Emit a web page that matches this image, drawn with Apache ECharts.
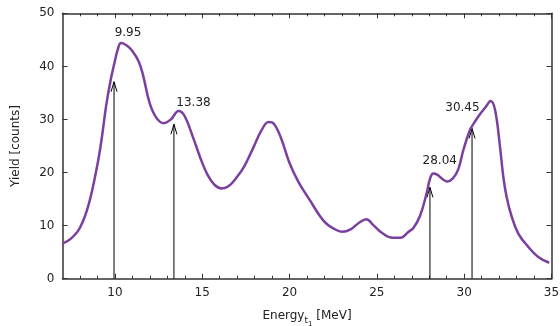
<!DOCTYPE html>
<html>
<head>
<meta charset="utf-8">
<script src="https://cdn.jsdelivr.net/npm/echarts@6/dist/echarts.min.js"></script>
<style>
  html, body { margin: 0; padding: 0; background: #fff; }
  #box1 { width: 560px; height: 326px; }
</style>
</head>
<body>
<div id="box1"></div>
<script>
// data
var energy = [7.0, 7.5, 8.0, 8.5, 9.0, 9.25, 9.5, 9.75, 10.0, 10.15, 10.35, 10.7, 11.0, 11.35, 11.6, 12.0, 12.4, 12.8, 13.2, 13.65, 14.0, 14.5,
  14.9, 15.3, 15.7, 16.1, 16.5, 17.0, 17.4, 17.9, 18.4, 18.8, 19.1, 19.5, 20.0, 20.5, 21.2, 21.7, 22.1, 22.5, 23.0, 23.5, 24.0, 24.4,
  24.8, 25.3, 25.9, 26.35, 26.8, 27.1, 27.47, 27.85, 28.05, 28.23, 28.45, 28.75, 29.03, 29.35, 29.66, 29.95, 30.33, 30.6, 30.9, 31.2,
  31.52, 31.77, 32.05, 32.24, 32.43, 32.72, 33.1, 33.67, 34.24, 34.87];
var yieldCounts = [6.6, 7.6, 9.6, 14.0, 21.5, 26.5, 32.6, 37.3, 41.0, 43.0, 44.4, 43.9, 42.9, 41.0, 38.5, 33.0, 30.2, 29.3, 30.0, 31.6, 30.6, 26.4,
  22.7, 19.6, 17.7, 17.0, 17.4, 19.2, 21.1, 24.5, 28.0, 29.5, 29.2, 26.6, 21.8, 18.3, 14.6, 12.0, 10.4, 9.5, 8.85, 9.3, 10.6, 11.2,
  10.1, 8.6, 7.7, 7.7, 8.8, 9.6, 11.8, 16.1, 18.9, 19.8, 19.6, 18.8, 18.3, 18.9, 20.6, 24.2, 28.0, 29.5, 31.0, 32.2,
  33.5, 31.8, 24.9, 19.2, 15.4, 11.7, 8.5, 6.0, 4.1, 3.0];

var arrowX = [9.95, 13.38, 28.04, 30.45];
var arrowTop = [37.1, 29.1, 17.2, 28.3];
var peakText = ['9.95', '13.38', '28.04', '30.45'];
var textX = [10.75, 14.5, 28.6, 29.9];
var textY = [46.4, 33.1, 22.2, 32.1];

var xMajor = [10, 15, 20, 25, 30, 35];
var xMinor = [8, 9, 11, 12, 13, 14, 16, 17, 18, 19, 21, 22, 23, 24, 26, 27, 28, 29, 31, 32, 33, 34];

var axisColor = '#333';
var fontName = 'DejaVu Sans';

var curveData = energy.map(function(e, i) {
  return [e, yieldCounts[i]];
});
var arrowData = arrowX.map(function(x, i) {
  return [x, arrowTop[i]];
});
var textData = textX.map(function(x, i) {
  return [x, textY[i], peakText[i]];
});

function xAxisPart(pos, ticks, len, showLine, showLabel) {
  return {
    type: 'value',
    min: 7,
    max: 35,
    position: pos,
    offset: 0,
    axisLine: { show: showLine, onZero: false, lineStyle: { color: axisColor, width: 1.5 } },
    axisTick: { show: true, inside: true, length: len, customValues: ticks, lineStyle: { color: axisColor, width: 1 } },
    axisLabel: {
      show: showLabel,
      customValues: xMajor,
      fontSize: 12,
      fontFamily: fontName,
      color: '#222',
      margin: 8
    },
    splitLine: { show: false }
  };
}

var xAxes = [
  xAxisPart('bottom', xMajor, 5, true, true),
  xAxisPart('bottom', xMinor, 3, false, false),
  xAxisPart('top', xMajor, 5, true, false),
  xAxisPart('top', xMinor, 3, false, false)
];
// Energy with subscript t and sub-subscript 1
xAxes[0].name = '{a|Energy}{b|t}{c|1}{a| [MeV]}';
xAxes[0].nameLocation = 'middle';
xAxes[0].nameGap = 31;
xAxes[0].nameTextStyle = {
  rich: {
    a: { fontSize: 12, fontFamily: fontName, color: '#222', lineHeight: 14, verticalAlign: 'top' },
    b: { fontSize: 9, fontFamily: fontName, color: '#222', lineHeight: 9, verticalAlign: 'top', padding: [6.5, 0, 0, 0] },
    c: { fontSize: 7, fontFamily: fontName, color: '#222', lineHeight: 7, verticalAlign: 'top', padding: [11, 0, 0, 0] }
  }
};

var chart = echarts.init(document.getElementById('box1'), null, { renderer: 'canvas' });

var option = {
  animation: false,
  backgroundColor: '#fff',
  grid: {
    left: 62.5,
    right: 8.5,
    top: 13.3,
    bottom: 47.3,
    containLabel: false,
    outerBoundsMode: 'none'
  },
  xAxis: xAxes,
  yAxis: [{
    type: 'value',
    min: 0,
    max: 50,
    interval: 10,
    position: 'left',
    name: 'Yield [counts]',
    nameLocation: 'middle',
    nameGap: 41,
    nameTextStyle: { fontSize: 12, fontFamily: fontName, color: '#222' },
    axisLine: { show: true, onZero: false, lineStyle: { color: axisColor, width: 1.5 } },
    axisTick: { show: true, inside: true, length: 5, lineStyle: { color: axisColor } },
    axisLabel: { fontSize: 12, fontFamily: fontName, color: '#222', margin: 8 },
    splitLine: { show: false }
  }, {
    type: 'value',
    min: 0,
    max: 50,
    interval: 10,
    position: 'right',
    axisLine: { show: true, onZero: false, lineStyle: { color: axisColor, width: 1.5 } },
    axisTick: { show: true, inside: true, length: 5, lineStyle: { color: axisColor } },
    axisLabel: { show: false },
    splitLine: { show: false }
  }],
  series: [{
    name: 'yield',
    type: 'line',
    xAxisIndex: 0,
    yAxisIndex: 0,
    data: curveData,
    smooth: 0.4,
    showSymbol: false,
    lineStyle: { color: '#7b3f9f', width: 2.5 },
    z: 3
  }, {
    // peak arrows: vertical line from zero up to an open arrowhead
    type: 'custom',
    xAxisIndex: 0,
    yAxisIndex: 0,
    data: arrowData,
    renderItem: function(params, api) {
      var base = api.coord([api.value(0), 0]);
      var tip = api.coord([api.value(0), api.value(1)]);
      return {
        type: 'group',
        children: [{
          type: 'line',
          shape: { x1: base[0], y1: base[1], x2: tip[0], y2: tip[1] },
          style: { stroke: '#000', lineWidth: 1 }
        }, {
          type: 'polyline',
          shape: { points: [[tip[0] - 3, tip[1] + 10], [tip[0], tip[1]], [tip[0] + 3, tip[1] + 10]] },
          style: { stroke: '#000', lineWidth: 1, fill: null }
        }]
      };
    },
    z: 2
  }, {
    type: 'custom',
    xAxisIndex: 0,
    yAxisIndex: 0,
    data: textData,
    renderItem: function(params, api) {
      var p = api.coord([api.value(0), api.value(1)]);
      return {
        type: 'text',
        x: p[0],
        y: p[1],
        style: {
          text: textData[params.dataIndex][2],
          fontSize: 12,
          fontFamily: fontName,
          fill: '#222',
          align: 'center',
          verticalAlign: 'middle'
        }
      };
    },
    z: 4
  }]
};
chart.setOption(option);
</script>
</body>
</html>
